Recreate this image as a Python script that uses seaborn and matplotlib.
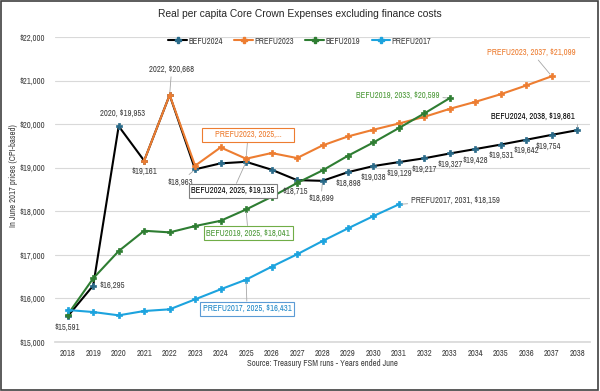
import matplotlib
matplotlib.use("Agg")
import matplotlib.pyplot as plt
import seaborn as sns
from matplotlib.patches import Rectangle
from matplotlib.lines import Line2D

years = list(range(2018, 2039))
befu2024_years = list(range(2018, 2039))
befu2024 = [15591, 16295, 19953, 19161, 20668, 18963, 19100, 19135, 18955, 18715,
            18699, 18898, 19038, 19129, 19217, 19327, 19428, 19531, 19642, 19754, 19861]
prefu2023_years = list(range(2021, 2038))
prefu2023 = [19161, 20668, 19046, 19466, 19206, 19337, 19222, 19511, 19718, 19872,
             20015, 20168, 20352, 20512, 20688, 20888, 21099]
befu2019_years = list(range(2018, 2034))
befu2019 = [15630, 16461, 17087, 17553, 17516, 17661, 17782, 18041, 18330, 18649,
            18938, 19275, 19580, 19911, 20247, 20599]
prefu2017_years = list(range(2018, 2032))
prefu2017 = [15734, 15688, 15612, 15711, 15750, 15979, 16209, 16431, 16727, 17012,
             17317, 17608, 17890, 18159]

title = "Real per capita Core Crown Expenses excluding finance costs"
ylabel = "In June 2017 prices (CPI-based)"
source = "Source: Treasury FSM runs - Years ended June"

sns.set_theme(style="white")
NARROW = ["Liberation Sans Narrow", "Archivo Narrow", "DejaVu Sans"]
plt.rcParams["font.family"] = NARROW
FS = 6.2

fig = plt.figure(figsize=(6, 3.91), dpi=100)
ax = fig.add_axes([55/600, 1-342/391, 535/600, 305/391])

C_BLACK = "#000000"
C_BLACK_M = "#2a6b8a"
C_ORANGE = "#ED7D31"
C_GREEN = "#2E7D32"
C_BLUE = "#1CA3DE"

series = [
    ("BEFU2024", befu2024_years, befu2024, C_BLACK, C_BLACK_M),
    ("PREFU2023", prefu2023_years, prefu2023, C_ORANGE, C_ORANGE),
    ("BEFU2019", befu2019_years, befu2019, C_GREEN, C_GREEN),
    ("PREFU2017", prefu2017_years, prefu2017, C_BLUE, C_BLUE),
]
handles = []
for name, xs, vs, col, mcol in series:
    sns.lineplot(x=xs, y=vs, ax=ax, color=col, linewidth=1.5, marker="P",
                 markersize=4, markerfacecolor=mcol, markeredgecolor=mcol,
                 markeredgewidth=0.5)
    handles.append(Line2D([], [], color=col, lw=1.5, marker="P", markersize=4,
                          markerfacecolor=mcol, markeredgecolor=mcol, label=name))

ax.set_xlim(2017.5, 2038.5)
ax.set_ylim(15000, 22000)
ax.set_xticks(years)
ax.set_xticklabels([str(y) for y in years])
yt = list(range(15000, 22001, 1000))
ax.set_yticks(yt)
ax.set_yticklabels([f"${v:,}" for v in yt])
ax.tick_params(axis="both", labelsize=FS, colors="#404040", length=0)
ax.tick_params(axis="x", pad=5)
ax.tick_params(axis="y", pad=7)
ax.grid(axis="y", color="#d9d9d9", lw=0.8)
ax.set_axisbelow(True)
for s in ["top", "right", "left"]:
    ax.spines[s].set_visible(False)
ax.spines["bottom"].set_color("#d9d9d9")
ax.set_xlabel("")
ax.set_ylabel("")

fig.legend(handles=handles, loc="center", bbox_to_anchor=(0.5, 1-41/391), ncol=4,
           frameon=False, fontsize=FS, handlelength=2.2, columnspacing=1.3,
           handletextpad=0.15, labelcolor="#404040")

fig.text(0.5, 1-14/391, title, ha="center", va="center", fontsize=7.4,
         color="#262626", family=["Liberation Sans", "DejaVu Sans"])
fig.text(14/600, 1-176/391, ylabel, rotation=90, ha="center", va="center",
         fontsize=FS, color="#404040")
fig.text(322/600, 1-363/391, source, ha="center", va="center", fontsize=FS,
         color="#404040")

GRAY = "#404040"
LEAD = dict(arrowstyle="-", color="#a6a6a6", lw=0.6, shrinkA=0, shrinkB=2)

def lab(x, y, text, dx, dy, color=GRAY, bold=False, ha="center", leader=False,
        box=None, conn=None):
    kw = {}
    if leader:
        a = dict(LEAD)
        if conn:
            a["connectionstyle"] = conn
        kw["arrowprops"] = a
    if box:
        kw["bbox"] = dict(boxstyle="square,pad=0.3", fc="white", ec=box, lw=0.8)
    ax.annotate(text, xy=(x, y), xytext=(dx, dy), textcoords="offset pixels",
                ha=ha, va="center", fontsize=FS, color=color,
                fontweight="bold" if bold else "normal", **kw)

def money(v):
    return f"${v:,}"

b = dict(zip(befu2024_years, befu2024))
lab(2018, b[2018], money(b[2018]), 0, -11)
lab(2019, b[2019], money(b[2019]), 6.5, 0, ha="left")
lab(2020, b[2020], f"2020, {money(b[2020])}", 4, 13)
lab(2021, b[2021], money(b[2021]), 0, -11)
lab(2022, b[2022], f"2022, {money(b[2022])}", 2, 26, leader=True)
lab(2023, b[2023], money(b[2023]), -15, -13, leader=True)
lab(2025, b[2025], f"BEFU2024, 2025, {money(b[2025])}", -13, -29, color="#000000",
    leader=True, box="#7f7f7f")
lab(2027, b[2027], money(b[2027]), -2, -11)
lab(2028, b[2028], money(b[2028]), -1.5, -18, leader=True)
for yr in range(2029, 2037):
    lab(yr, b[yr], money(b[yr]), 0, -11)
lab(2037, b[2037], money(b[2037]), -4, -11)
lab(2038, b[2038], f"BEFU2024, 2038, {money(b[2038])}", -44, 14, color="#000000",
    bold=True, leader=True, conn="angle,angleA=0,angleB=90,rad=0")

o = dict(zip(prefu2023_years, prefu2023))
lab(2025, o[2025], "     PREFU2023, 2025,...     ", 2, 24, color=C_ORANGE, bold=True,
    leader=True, box=C_ORANGE)
lab(2037, o[2037], f"PREFU2023, 2037, {money(o[2037])}", -20, 24, color=C_ORANGE,
    bold=True, leader=True)

g = dict(zip(befu2019_years, befu2019))
lab(2033, g[2033], f"BEFU2019, 2033, {money(g[2033])}", -52, 3, color="#4E9A3A",
    bold=True, leader=True)
lab(2025, g[2025], f"BEFU2019, 2025, {money(g[2025])}", 2, -23.5, color="#4E9A3A",
    bold=True, leader=True, box="#70AD47")

p = dict(zip(prefu2017_years, prefu2017))
lab(2025, p[2025], f"PREFU2017, 2025, {money(p[2025])}", 1, -29, color="#1E88C8",
    bold=True, leader=True, box="#5B9BD5")
lab(2031, p[2031], f"PREFU2017, 2031, {money(p[2031])}", 12, 4, ha="left",
    leader=True)

fig.patches.append(Rectangle((0.002, 0.003), 0.995, 0.994, transform=fig.transFigure,
                             fill=False, ec="#404040", lw=1.2))

fig.savefig("out.png", dpi=100)
